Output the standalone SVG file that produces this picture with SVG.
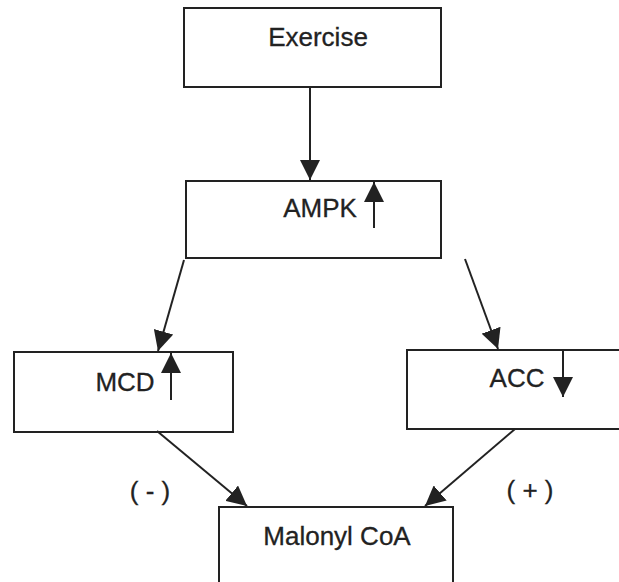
<svg xmlns="http://www.w3.org/2000/svg" width="619" height="582" viewBox="0 0 619 582">
<defs>
<marker id="ah" markerUnits="userSpaceOnUse" markerWidth="20" markerHeight="20" refX="20" refY="10" orient="auto">
<path d="M0,0 L20,10 L0,20 z" fill="#222"/>
</marker>
<style>
.box{fill:#fff;stroke:#222;stroke-width:2}
.t{font-family:"Liberation Sans",Arial,sans-serif;font-size:26px;fill:#222;stroke:#222;stroke-width:0.3;text-anchor:middle}
.c{stroke:#222;stroke-width:2;fill:none;marker-end:url(#ah)}
</style>
</defs>
<rect width="619" height="582" fill="#fff"/>
<g id="exercise"><rect class="box" x="184" y="8" width="257" height="79"/><text class="t" x="318" y="46">Exercise</text></g>
<g id="ampk"><rect class="box" x="186" y="181" width="255" height="77"/><text class="t" x="320" y="217">AMPK</text><line class="c" x1="374" y1="228" x2="374" y2="182"/></g>
<g id="mcd"><rect class="box" x="14" y="352" width="219" height="80"/><text class="t" x="125" y="391">MCD</text><line class="c" x1="171" y1="400" x2="171" y2="353"/></g>
<g id="acc"><rect class="box" x="407" y="350" width="214" height="79"/><text class="t" x="517" y="387">ACC</text><line class="c" x1="563" y1="350" x2="563" y2="397"/></g>
<g id="malonyl"><rect class="box" x="219" y="507" width="234" height="80"/><text class="t" x="337" y="545">Malonyl CoA</text></g>
<g id="connectors">
<line class="c" x1="184" y1="260" x2="158" y2="351"/>
<line class="c" x1="310" y1="87" x2="310" y2="180"/>
<line class="c" x1="465" y1="259" x2="498" y2="349"/>
<line class="c" x1="157" y1="431" x2="247" y2="506"/>
<line class="c" x1="515" y1="429" x2="425" y2="506"/>
<text class="t" x="150" y="500">( - )</text>
<text class="t" x="530" y="499">( + )</text>
</g>
</svg>
